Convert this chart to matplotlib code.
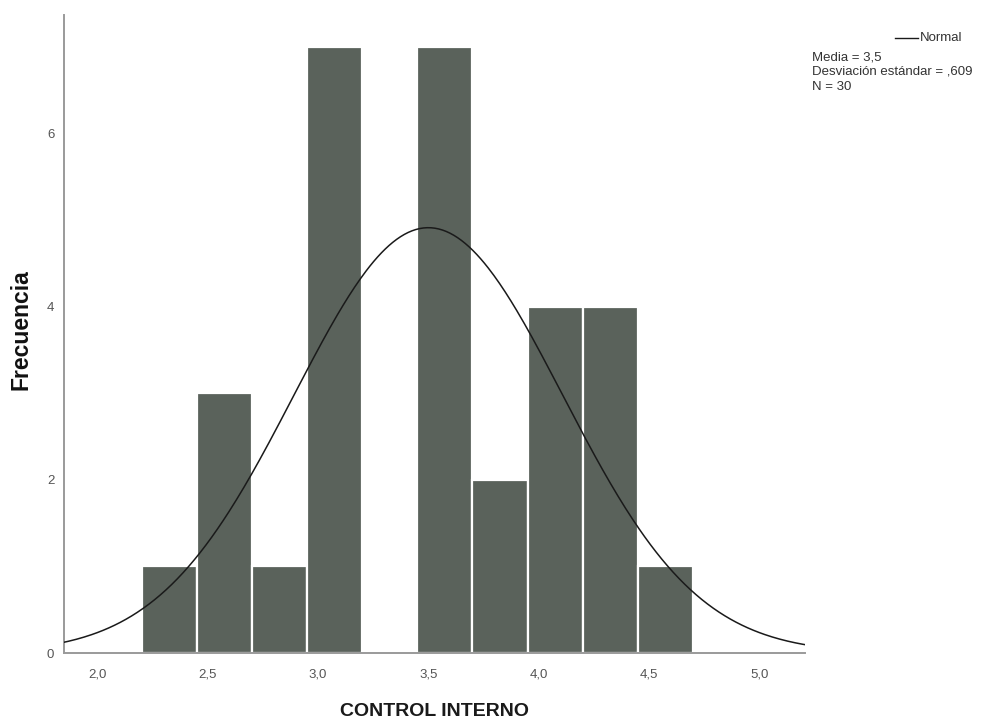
import numpy as np
import matplotlib
matplotlib.use("Agg")
import matplotlib.pyplot as plt

# Histogram of CONTROL INTERNO (bin edges and frequencies)
bin_edges = [2.20, 2.45, 2.70, 2.95, 3.20, 3.45, 3.70, 3.95, 4.20, 4.45, 4.70]
frequencies = [1, 3, 1, 7, 0, 7, 2, 4, 4, 1]

# Summary statistics used for the fitted normal curve
media = 3.5
desviacion = 0.609
n_total = 30

x_ticks = [2.0, 2.5, 3.0, 3.5, 4.0, 4.5, 5.0]
x_tick_labels = ["2,0", "2,5", "3,0", "3,5", "4,0", "4,5", "5,0"]
y_ticks = [0, 2, 4, 6]
y_tick_labels = ["0", "2", "4", "6"]

W, H = 983, 724
fig = plt.figure(figsize=(W / 100, H / 100), dpi=100)
ax = fig.add_axes([64 / W, 1 - 653 / H, (805 - 64) / W, (653 - 15) / H])

edges = np.array(bin_edges)
widths = np.diff(edges)
ax.bar(edges[:-1], frequencies, width=widths, align="edge",
       color="#5a625b", edgecolor="white", linewidth=1.6, zorder=2)

# Normal curve scaled to counts per bin
bw = widths.mean()
xs = np.linspace(1.80, 5.25, 400)
ys = n_total * bw / (desviacion * np.sqrt(2 * np.pi)) * np.exp(-0.5 * ((xs - media) / desviacion) ** 2)
ax.plot(xs, ys, color="#1a1a1a", linewidth=1.1, zorder=3)

ax.set_xlim(1.848, 5.208)
ax.set_ylim(0, 7.37)

sans = ["Liberation Sans", "DejaVu Sans"]

ax.set_xticks(x_ticks)
ax.set_xticklabels(x_tick_labels, family=sans)
ax.set_yticks(y_ticks)
ax.set_yticklabels(y_tick_labels, family=sans)
ax.tick_params(axis="both", length=0, labelsize=9.5, labelcolor="#555555")
ax.tick_params(axis="y", pad=7)
ax.tick_params(axis="x", pad=11)

for side in ("top", "right"):
    ax.spines[side].set_visible(False)
for side in ("left", "bottom"):
    ax.spines[side].set_color("#9a9a9a")
    ax.spines[side].set_linewidth(1.4)

# Axis titles
fig.text(21 / W, 1 - 330 / H, "Frecuencia", fontsize=16.5, fontweight="bold",
         family=sans, rotation=90, ha="center", va="center", color="#111111")
fig.text(434 / W, 1 - 712 / H, "CONTROL INTERNO", fontsize=14, fontweight="bold",
         family=sans, ha="center", va="center", color="#1a1a1a")

# Legend-style annotation at the top right
fig.lines.append(plt.Line2D([895 / W, 918 / W], [1 - 38 / H, 1 - 38 / H],
                            color="#1a1a1a", linewidth=1.0,
                            transform=fig.transFigure))
fig.text(920 / W, 1 - 38 / H, "Normal", fontsize=9.5, family=sans,
         va="center", ha="left", color="#333333")
stat_lines = [
    f"Media = {media:.1f}".replace(".", ","),
    "Desviación estándar = " + f"{desviacion:.3f}".lstrip("0").replace(".", ","),
    f"N = {n_total}",
]
for i, line in enumerate(stat_lines):
    fig.text(812 / W, 1 - (57 + 15 * i) / H, line, fontsize=9.5, family=sans,
             va="center", ha="left", color="#333333")

fig.savefig("out.png", dpi=100, facecolor="white")
